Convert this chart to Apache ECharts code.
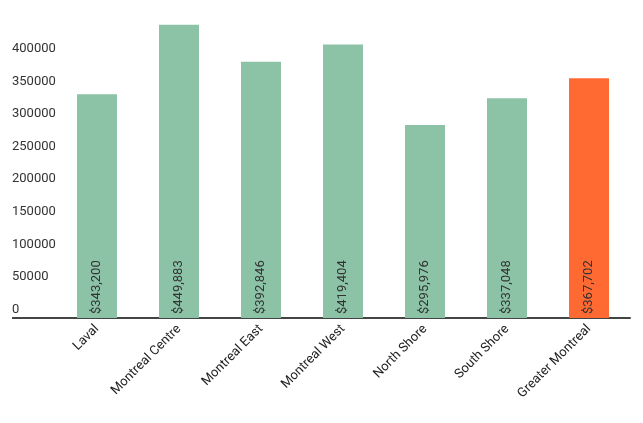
<!DOCTYPE html>
<html>
<head>
<meta charset="utf-8">
<script src="https://cdn.jsdelivr.net/npm/echarts@6/dist/echarts.min.js"></script>
<style>html,body{margin:0;padding:0;background:#fff;}#c{width:643px;height:423px;}</style>
</head>
<body>
<div id="c"></div>
<script>
const categories = ['Laval','Montreal Centre','Montreal East','Montreal West','North Shore','South Shore','Greater Montreal'];
const prices = [343200, 449883, 392846, 419404, 295976, 337048, 367702];
const priceLabels = ['$343,200','$449,883','$392,846','$419,404','$295,976','$337,048','$367,702'];
const highlighted = 'Greater Montreal';

const chart = echarts.init(document.getElementById('c'), null, {renderer:'canvas'});
chart.setOption({
  animation: false,
  backgroundColor: '#fff',
  textStyle: {fontFamily: 'Roboto'},
  grid: {left: 56, right: 13, top: 24.6, bottom: 105},
  xAxis: {
    type: 'category',
    data: categories,
    axisLine: {lineStyle: {color: '#444', width: 2}},
    axisTick: {show: false},
    axisLabel: {rotate: 45, color: '#222', fontSize: 13, margin: 9, interval: 0, fontFamily: 'Roboto'}
  },
  yAxis: {
    type: 'value',
    min: 0, max: 450000, interval: 50000,
    splitLine: {show: false},
    axisLine: {show: false},
    axisTick: {show: false},
    axisLabel: {
      showMaxLabel: false,
      formatter: v => String(v),
      color: '#333', fontSize: 13, align: 'left', margin: 44,
      verticalAlign: 'bottom', padding: [0,0,2,0], fontFamily: 'Roboto'
    }
  },
  graphic: [{type:'line', shape:{x1:12, y1:318, x2:57, y2:318}, style:{stroke:'#444', lineWidth:2}}],
  series: [{
    type: 'bar',
    barWidth: 40,
    data: prices.map((v, i) => ({
      value: v,
      itemStyle: {color: categories[i] === highlighted ? '#FF6A33' : '#8CC3A7'}
    })),
    label: {
      show: true,
      position: 'insideBottom',
      rotate: 90,
      align: 'left',
      verticalAlign: 'middle',
      distance: 4,
      color: '#333',
      fontSize: 13,
      fontFamily: 'Roboto',
      formatter: p => priceLabels[p.dataIndex]
    }
  }]
});
</script>
</body>
</html>
